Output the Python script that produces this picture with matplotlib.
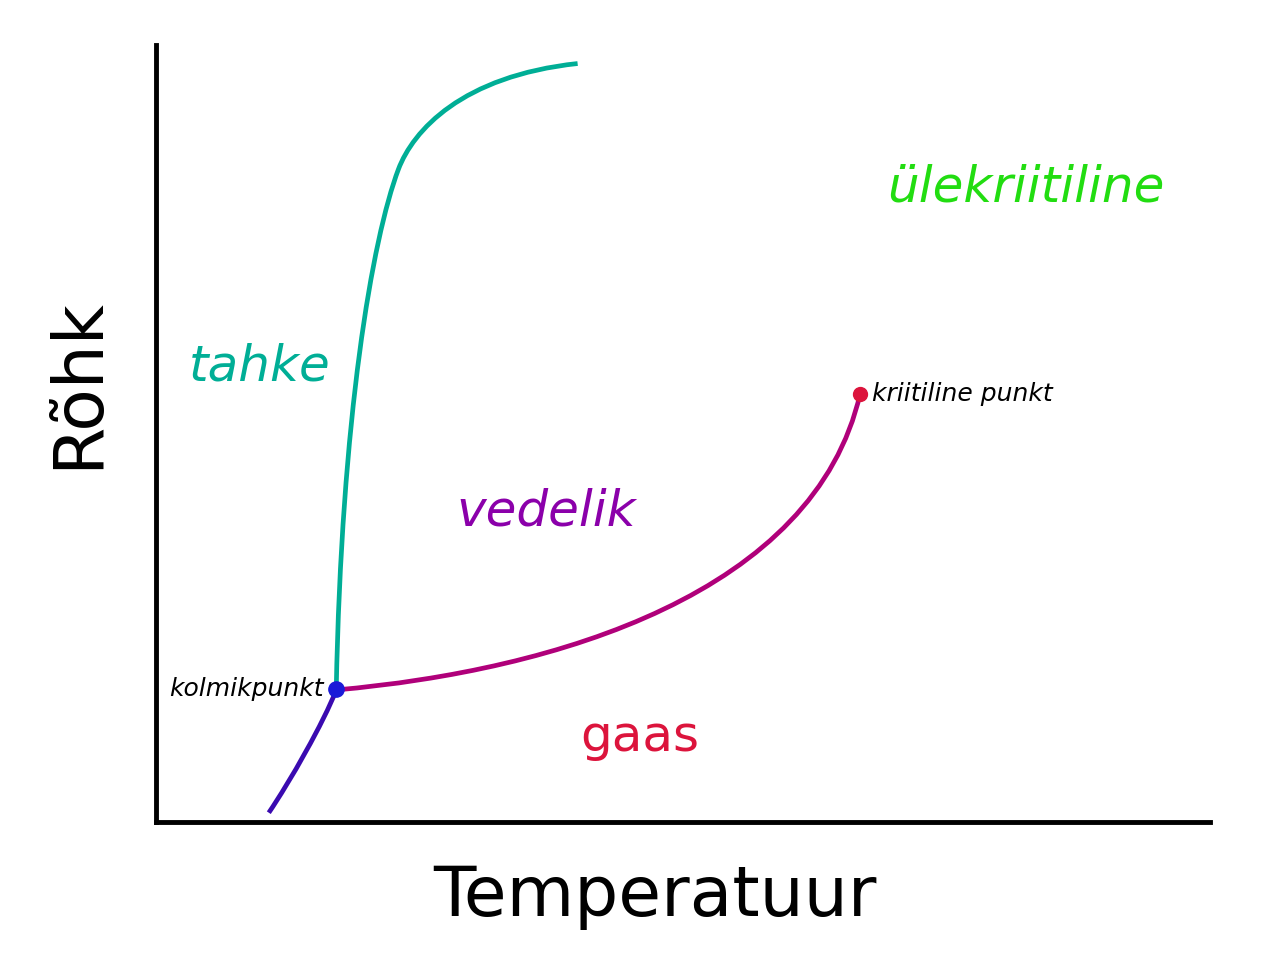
import matplotlib
matplotlib.use("Agg")
import matplotlib.pyplot as plt
from matplotlib.path import Path
from matplotlib.patches import PathPatch

# curves as cubic bezier control points (arbitrary units, axes run 0..10)
subl_ctrl = [(1.07, 0.12), (1.27, 0.52), (1.59, 1.28), (1.71, 1.70)]
melt_ctrl = [(1.71, 1.71), (1.76, 5.20), (2.05, 7.50), (2.30, 8.40),
             (2.4375, 8.895), (2.90, 9.60), (4.00, 9.76)]
vap_ctrl = [(1.71, 1.70), (3.80, 1.95), (6.25, 2.95), (6.68, 5.51)]

triple = (1.71, 1.71)
critical = (6.68, 5.51)

region_labels = ["tahke", "vedelik", "gaas", "ülekriitiline"]
region_x = [0.98, 3.70, 4.59, 8.25]
region_y = [5.86, 3.99, 1.09, 8.17]
region_colors = ["#00ae96", "#8b00aa", "#dc143c", "#22dd11"]


def bezier(ax, pts, color):
    codes = [Path.MOVETO] + [Path.CURVE4] * (len(pts) - 1)
    ax.add_patch(PathPatch(Path(pts, codes), fill=False, edgecolor=color, lw=3.4))


fig = plt.figure(figsize=(12.8, 9.8), dpi=100)
ax = fig.add_axes([0.1219, 0.1612, 0.8234, 0.793])

bezier(ax, subl_ctrl, "#3a0ab0")
bezier(ax, melt_ctrl, "#00ae96")
bezier(ax, vap_ctrl, "#b0007a")

ax.plot(*triple, "o", color="#1a1ad8", ms=11, zorder=5)
ax.plot(*critical, "o", color="#dc143c", ms=10, zorder=5)

ax.text(triple[0] - 0.12, triple[1], "kolmikpunkt", fontsize=18, style="italic",
        ha="right", va="center")
ax.text(critical[0] + 0.11, critical[1], "kriitiline punkt", fontsize=18, style="italic",
        ha="left", va="center")

for lab, x, y, c in zip(region_labels, region_x, region_y, region_colors):
    ax.text(x, y, lab, fontsize=36, color=c, ha="center", va="center",
            style="italic" if lab != "gaas" else "normal")

ax.set_xlim(0, 10)
ax.set_ylim(0, 10)
ax.set_xticks([])
ax.set_yticks([])
for s in ["top", "right"]:
    ax.spines[s].set_visible(False)
for s in ["left", "bottom"]:
    ax.spines[s].set_linewidth(3.5)

fig.text(0.5117, 0.0847, "Temperatuur", fontsize=50, ha="center", va="center")
fig.text(0.0609, 0.609, "Rõhk", fontsize=50, ha="center", va="center", rotation=90)

fig.savefig("out.png", dpi=100)
